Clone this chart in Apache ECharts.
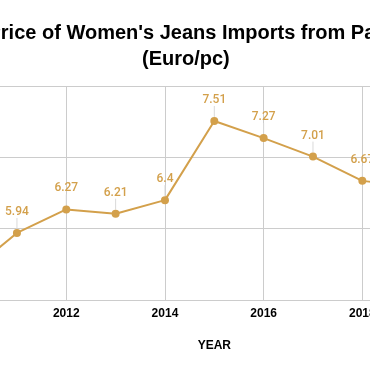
<!DOCTYPE html>
<html>
<head>
<meta charset="utf-8">
<style>
html,body{margin:0;padding:0;width:370px;height:371px;overflow:hidden;background:#fff;}
#chart{position:absolute;left:-100px;top:0;width:572px;height:371px;}
</style>
<script src="https://cdn.jsdelivr.net/npm/echarts@6/dist/echarts.min.js"></script>
</head>
<body>
<div id="chart"></div>
<script>
var titleLine1 = "Price of Women's Jeans Imports from Pakistan";
var titleLine2 = "(Euro/pc)";
var years = [2010, 2011, 2012, 2013, 2014, 2015, 2016, 2017, 2018, 2019];
var prices = [5.37, 5.94, 6.27, 6.21, 6.4, 7.51, 7.27, 7.01, 6.67, 6.59];
var xName = 'YEAR';

var gold = '#D3A04B';
var titleFont = {fontFamily: 'Liberation Sans', fontWeight: 'bold', fontSize: 20, lineHeight: 26, color: '#000'};
var chart = echarts.init(document.getElementById('chart'), null, {renderer: 'canvas'});
chart.setOption({
  backgroundColor: '#fff',
  animation: false,
  title: [
    {text: titleLine1, left: 82.5, top: 15, textStyle: titleFont},
    {text: titleLine2, left: 237, top: 41, textStyle: titleFont}
  ],
  grid: {left: 67.6, right: 11, top: 86, bottom: 71, containLabel: false, outerBoundsMode: 'none'},
  xAxis: {
    type: 'value', min: 2010, max: 2020, interval: 2,
    name: xName, nameLocation: 'middle', nameGap: 40,
    nameTextStyle: {fontFamily: 'Liberation Sans', fontWeight: 'bold', fontSize: 12, color: '#000'},
    axisLine: {show: true, lineStyle: {color: '#ccc'}},
    axisTick: {show: false},
    axisLabel: {margin: 8, fontFamily: 'Liberation Sans', fontWeight: 'bold', fontSize: 12, color: '#000',
      formatter: function (v) { return String(v); }},
    splitLine: {show: true, lineStyle: {color: '#ccc'}}
  },
  yAxis: {
    type: 'value', min: 5, max: 8, interval: 1,
    axisLine: {show: false}, axisTick: {show: false},
    axisLabel: {fontFamily: 'Liberation Sans', fontWeight: 'bold', fontSize: 12, color: '#000'},
    splitLine: {show: true, lineStyle: {color: '#ccc'}}
  },
  series: [{
    type: 'line',
    data: years.map(function (y, i) { return [y, prices[i]]; }),
    symbol: 'circle', symbolSize: 8,
    itemStyle: {color: gold},
    lineStyle: {color: gold, width: 2},
    label: {show: true, position: 'top', distance: 2, color: gold, fontFamily: 'Roboto', fontWeight: 500, fontSize: 12,
      formatter: function (p) { return String(p.value[1]); }},
    labelLayout: {dy: -9},
    labelLine: {show: true, lineStyle: {color: '#d9d9d9', width: 1}}
  }]
});
</script>
</body>
</html>
